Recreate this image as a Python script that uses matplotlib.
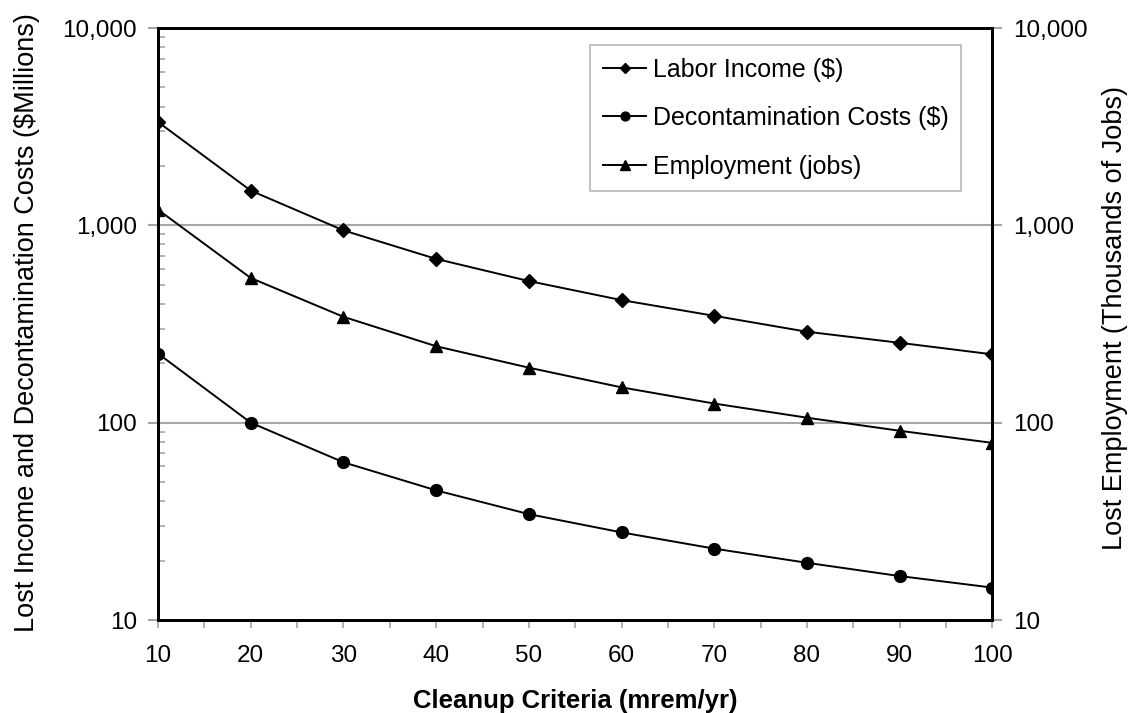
import matplotlib.pyplot as plt
from matplotlib.ticker import FixedLocator, FuncFormatter, NullFormatter

plt.rcParams['font.family'] = ['Liberation Sans', 'DejaVu Sans']

criteria = [10, 20, 30, 40, 50, 60, 70, 80, 90, 100]
labor_income = [3340, 1500, 943, 676, 522, 418, 348, 289, 254, 222]
decon_costs = [224, 100, 63, 45.4, 34.4, 27.8, 23.0, 19.5, 16.7, 14.6]
employment = [1200, 541, 344, 244, 190, 151, 125, 106, 91, 79]

yticks = [10, 100, 1000, 10000]
xticks = [10, 20, 30, 40, 50, 60, 70, 80, 90, 100]

fig = plt.figure(figsize=(11.29, 7.13), dpi=100)
ax = fig.add_axes([0.140, 0.1304, 0.739, 0.8303])

ax.plot(criteria, labor_income, color='black', lw=1.4, marker='D', ms=7,
        label='Labor Income ($)')
ax.plot(criteria, decon_costs, color='black', lw=1.4, marker='o', ms=8.5,
        label='Decontamination Costs ($)')
ax.plot(criteria, employment, color='black', lw=1.4, marker='^', ms=9,
        label='Employment (jobs)')

ax.set_yscale('log')
ax.set_ylim(10, 10000)
ax.set_xlim(10, 100)

fmt = FuncFormatter(lambda v, p: f'{v:,.0f}')
ax.yaxis.set_major_locator(FixedLocator(yticks))
ax.yaxis.set_major_formatter(fmt)
ax.yaxis.set_minor_formatter(NullFormatter())
ax.set_xticks(xticks)
ax.set_xticks(range(15, 100, 10), minor=True)

for y in [100, 1000]:
    ax.axhline(y, color='#a6a6a6', lw=1.5, zorder=0)

ax.tick_params(axis='y', which='major', direction='out', length=7, width=1.5,
               color='#a6a6a6', labelsize=17.5, pad=8)
ax.tick_params(axis='y', which='minor', direction='in', length=5, width=1.2,
               color='#a6a6a6')
ax.tick_params(axis='x', which='both', direction='out', length=6, width=1.2,
               color='#a6a6a6', labelsize=17.5, pad=12)

for s in ax.spines.values():
    s.set_linewidth(2)
    s.set_color('black')

ax.set_xlabel('Cleanup Criteria (mrem/yr)', fontsize=18.5, fontweight='bold',
              labelpad=16)
ax.set_ylabel('Lost Income and Decontamination Costs ($Millions)', fontsize=19.5)
ax.yaxis.set_label_coords(-0.142, 0.502)

ax2 = ax.twinx()
ax2.set_yscale('log')
ax2.set_ylim(10, 10000)
ax2.yaxis.set_major_locator(FixedLocator(yticks))
ax2.yaxis.set_major_formatter(fmt)
ax2.yaxis.set_minor_locator(FixedLocator([]))
ax2.tick_params(axis='y', which='major', direction='out', length=7, width=1.5,
                color='#a6a6a6', labelsize=17.5, pad=8)
for s in ax2.spines.values():
    s.set_linewidth(2)
ax2.set_ylabel('Lost Employment (Thousands of Jobs)', fontsize=19.5)
ax2.yaxis.set_label_coords(1.1315, 0.51)

leg = ax.legend(loc='upper left', bbox_to_anchor=(0.518, 0.971), fontsize=18,
                frameon=True, fancybox=False, handlelength=1.75,
                handletextpad=0.25, labelspacing=0.98, borderpad=0.5,
                borderaxespad=0.0, markerscale=0.75)
leg.get_frame().set_edgecolor('#a6a6a6')
leg.get_frame().set_linewidth(1.2)

fig.savefig('out.png', dpi=100)
